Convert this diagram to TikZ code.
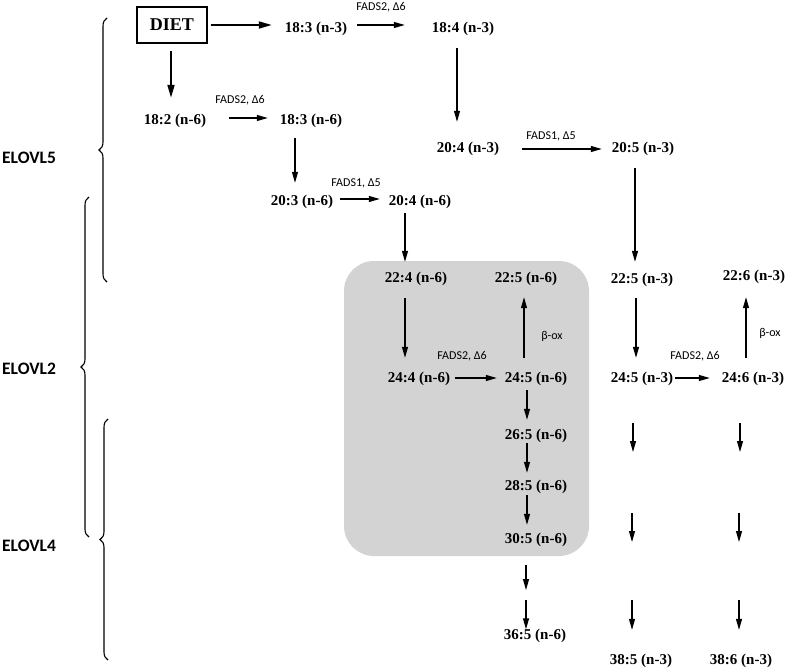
\documentclass[tikz,border=0pt]{standalone}
\usepackage{fontspec}
\setmainfont{Liberation Serif}
\newfontfamily\lblfont{Carlito}
\usepackage{tikz}
\usetikzlibrary{arrows.meta,decorations.pathreplacing}
\definecolor{boxgrey}{HTML}{D3D3D3}

\begin{document}
\begin{tikzpicture}[x=1pt,y=-1pt,
 fa/.style={font=\fontsize{15}{17}\selectfont\bfseries,inner sep=0pt,%
   text height=10pt,text depth=1pt},
 enz/.style={font=\lblfont\fontsize{12}{14}\selectfont,inner sep=0pt},
 elovl/.style={font=\lblfont\fontsize{17.5}{19}\selectfont\bfseries,inner sep=0pt},
 arr/.style={-{Triangle[length=11pt,width=6pt]},line width=1.1pt},
 dietarr/.style={-{Triangle[length=13pt,width=7pt]},line width=1.8pt},
 brc/.style={decorate,decoration={brace,amplitude=8pt},line width=1.1pt}]
\useasboundingbox (0,0) rectangle (797,669);
\fill[boxgrey,rounded corners=30pt] (344,261) rectangle (589,556);
\node[draw,line width=1.2pt,minimum width=70pt,minimum height=36pt,inner sep=0pt,%
  font=\fontsize{18}{20}\selectfont\bfseries] (diet) at (172,25) {DIET};
\node[fa] (a183) at (316,28) {18:3 (n-3)};
\node[fa] (a184) at (463,28) {18:4 (n-3)};
\node[fa] (b182) at (175,120) {18:2 (n-6)};
\node[fa] (b183) at (311,120) {18:3 (n-6)};
\node[fa] (b203) at (302,201) {20:3 (n-6)};
\node[fa] (b204) at (420,201) {20:4 (n-6)};
\node[fa] (a204) at (468,148) {20:4 (n-3)};
\node[fa] (a205) at (643,148) {20:5 (n-3)};
\node[fa] (b224) at (416,278) {22:4 (n-6)};
\node[fa] (b225) at (526,278) {22:5 (n-6)};
\node[fa] (a225) at (642,279) {22:5 (n-3)};
\node[fa] (a226) at (754,276) {22:6 (n-3)};
\node[fa] (b244) at (419,378) {24:4 (n-6)};
\node[fa] (b245) at (536,378) {24:5 (n-6)};
\node[fa] (a245) at (642,378) {24:5 (n-3)};
\node[fa] (a246) at (753,378) {24:6 (n-3)};
\node[fa] (b265) at (536,435) {26:5 (n-6)};
\node[fa] (b285) at (536,486) {28:5 (n-6)};
\node[fa] (b305) at (536,539) {30:5 (n-6)};
\node[fa] (b365) at (535,635) {36:5 (n-6)};
\node[fa] (a385) at (641,660) {38:5 (n-3)};
\node[fa] (a386) at (741,660) {38:6 (n-3)};
\node[enz] (f1) at (381,7) {FADS2, Δ6};
\node[enz] (f2) at (240,100) {FADS2, Δ6};
\node[enz] (f3) at (356,183) {FADS1, Δ5};
\node[enz] (f4) at (551,136) {FADS1, Δ5};
\node[enz] (f5) at (462,356) {FADS2, Δ6};
\node[enz] (f6) at (695,356) {FADS2, Δ6};
\node[enz] (ox1) at (552,336) {β-ox};
\node[enz] (ox2) at (770,333) {β-ox};
\node[elovl] (e5) at (29,158) {ELOVL5};
\node[elovl] (e2) at (29,369) {ELOVL2};
\node[elovl] (e4) at (29,546) {ELOVL4};
\draw[brc] (107,282) -- (107,18);
\draw[brc] (89,537) -- (89,197);
\draw[brc] (108,660) -- (108,419);
\coordinate (g1) at (526,590); \coordinate (g2) at (526,600);
\coordinate (h1) at (633,423); \coordinate (h2) at (633,452);
\coordinate (h3) at (632,513); \coordinate (h4) at (632,542);
\coordinate (h5) at (632,600);
\coordinate (k1) at (740,423); \coordinate (k2) at (740,452);
\coordinate (k3) at (739,513); \coordinate (k4) at (739,542);
\coordinate (k5) at (739,600);
\draw[dietarr,shorten <=3pt,shorten >=13pt] (diet.east) -- (diet.east -| a183.west);
\draw[dietarr,shorten <=7pt,shorten >=16.5pt] ([xshift=-1pt]diet.south) -- ([xshift=-1pt]diet.south |- b182.north);
\draw[arr,shorten <=10pt,shorten >=27pt] ([yshift=3pt]a183.east) -- ([yshift=3pt]a183.east -| a184.west);
\draw[arr,shorten <=23pt,shorten >=12pt] ([yshift=2pt]b182.east) -- ([yshift=2pt]b182.east -| b183.west);
\draw[arr,shorten <=12.5pt,shorten >=12.5pt] ([xshift=-16pt]b183.south) -- ([xshift=-16pt]b183.south |- b203.north);
\draw[arr,shorten <=7pt,shorten >=9pt] ([yshift=2pt]b203.east) -- ([yshift=2pt]b203.east -| b204.west);
\draw[arr,shorten <=6.5pt,shorten >=10.5pt] ([xshift=-15pt]b204.south) -- ([xshift=-15pt]b204.south |- b224.north);
\draw[arr,shorten <=14.5pt,shorten >=20.5pt] ([xshift=-6pt]a184.south) -- ([xshift=-6pt]a184.south |- a204.north);
\draw[arr,shorten <=23pt,shorten >=10pt] ([yshift=-1pt]a204.east) -- ([yshift=-1pt]a204.east -| a205.west);
\draw[arr,shorten <=14.5pt,shorten >=11.5pt] ([xshift=-8pt]a205.south) -- ([xshift=-8pt]a205.south |- a225.north);
\draw[arr,shorten <=14.5pt,shorten >=14.5pt] ([xshift=-11pt]b224.south) -- ([xshift=-11pt]b224.south |- b244.north);
\draw[arr,shorten <=5pt,shorten >=8pt] (b244.east) -- (b244.east -| b245.west);
\draw[arr,shorten <=14.5pt,shorten >=13.5pt] ([xshift=-12pt]b245.north) -- ([xshift=-12pt]b245.north |- b225.south);
\draw[arr,shorten <=6.5pt,shorten >=9.5pt] ([xshift=-9pt]b245.south) -- ([xshift=-9pt]b245.south |- b265.north);
\draw[arr,shorten <=2.5pt,shorten >=7.5pt] ([xshift=-9pt]b265.south) -- ([xshift=-9pt]b265.south |- b285.north);
\draw[arr,shorten <=3.5pt,shorten >=8.5pt] ([xshift=-9pt]b285.south) -- ([xshift=-9pt]b285.south |- b305.north);
\draw[arr,shorten <=20.5pt] ([xshift=-10pt]b305.south) -- (g1);
\draw[arr] (g2) -- (g2 |- b365.north);
\draw[arr,shorten <=13.5pt,shorten >=14.5pt] ([xshift=-6pt]a225.south) -- ([xshift=-6pt]a225.south |- a245.north);
\draw[arr,shorten <=2pt,shorten >=12pt] (a245.east) -- (a245.east -| a246.west);
\draw[arr,shorten <=14.5pt,shorten >=15.5pt] ([xshift=-7pt]a246.north) -- ([xshift=-7pt]a246.north |- a226.south);
\draw[arr] (h1) -- (h2);
\draw[arr] (h3) -- (h4);
\draw[arr,shorten >=24.5pt] (h5) -- (h5 |- a385.north);
\draw[arr] (k1) -- (k2);
\draw[arr] (k3) -- (k4);
\draw[arr,shorten >=24.5pt] (k5) -- (k5 |- a386.north);
\end{tikzpicture}
\end{document}
